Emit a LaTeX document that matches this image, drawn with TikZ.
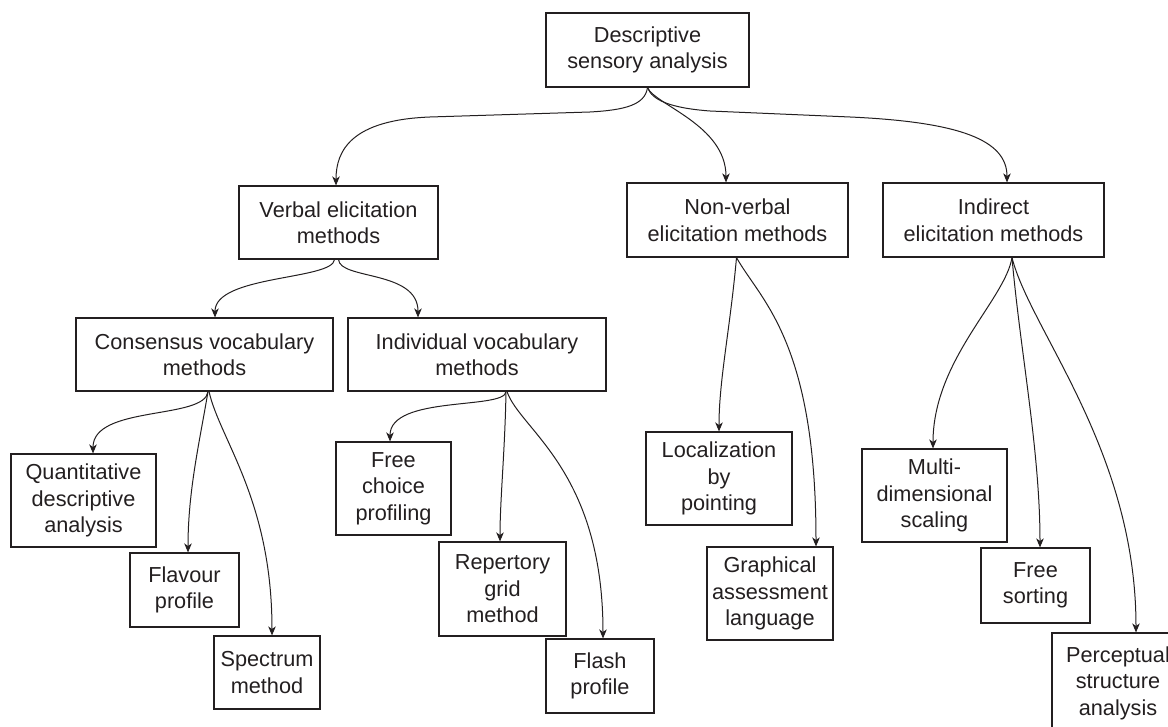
\documentclass[tikz,border=0pt]{standalone}
\usepackage{fontspec}
\setmainfont{Liberation Sans}
\usetikzlibrary{arrows.meta}
\definecolor{ink}{HTML}{231F20}
\begin{document}
\begin{tikzpicture}[x=1pt,y=-1pt,
  box/.style={draw=ink, line width=1.1pt, align=center, inner sep=0pt, text=ink,
    font=\fontsize{21.7}{26.5}\selectfont},
  link/.style={draw=ink, line width=1pt, -{Stealth[length=9pt,width=7.5pt,inset=2.5pt]}}]
\useasboundingbox (0,0) rectangle (1168,727);
% level 0
\node[box, minimum width=203pt, minimum height=74pt] (root) at (647.5,50) {Descriptive\\sensory analysis};
% level 1
\node[box, minimum width=199pt, minimum height=73pt] (verbal) at (338.5,222.5) {Verbal elicitation\\methods};
\node[box, minimum width=221pt, minimum height=74pt] (nonverbal) at (737.5,220) {Non-verbal\\elicitation methods};
\node[box, minimum width=221pt, minimum height=74pt] (indirect) at (993.5,220) {Indirect\\elicitation methods};
% level 2
\node[box, minimum width=257pt, minimum height=73pt] (consensus) at (204.5,354.5) {Consensus vocabulary\\methods};
\node[box, minimum width=258pt, minimum height=73pt] (individual) at (477,354.5) {Individual vocabulary\\methods};
% leaves
\node[box, minimum width=145pt, minimum height=93pt] (qda) at (83.5,500.5) {Quantitative\\descriptive\\analysis};
\node[box, minimum width=109pt, minimum height=74pt] (flavour) at (184.5,590) {Flavour\\profile};
\node[box, minimum width=106pt, minimum height=73pt] (spectrum) at (267,672.5) {Spectrum\\method};
\node[box, minimum width=115pt, minimum height=93pt] (freechoice) at (393.5,488.5) {Free\\choice\\profiling};
\node[box, minimum width=127pt, minimum height=94pt] (repertory) at (502.5,589) {Repertory\\grid\\method};
\node[box, minimum width=108pt, minimum height=74pt] (flash) at (600,676) {Flash\\profile};
\node[box, minimum width=146pt, minimum height=93pt] (localization) at (719,478.5) {Localization\\by\\pointing};
\node[box, minimum width=126pt, minimum height=93pt] (graphical) at (770,593.5) {Graphical\\assessment\\language};
\node[box, minimum width=145pt, minimum height=93pt] (multi) at (934.5,495.5) {Multi-\\dimensional\\scaling};
\node[box, minimum width=109pt, minimum height=75pt] (freesorting) at (1035.5,585.5) {Free\\sorting};
\node[box, minimum width=132pt, minimum height=100pt] (perceptual) at (1118,683) {Perceptual\\structure\\analysis};
% connectors from root
\draw[link] (root.south) .. controls (645,105) and (625,110) .. (590,112) -- (430,117) .. controls (352,120) and (336,150) .. ([xshift=-2.5pt]verbal.north);
\draw[link] (root.south) .. controls (655,105) and (726,125) .. ([xshift=-11.5pt]nonverbal.north);
\draw[link] (root.south) .. controls (652,100) and (670,108) .. (710,111) -- (850,117) .. controls (960,122) and (1007,140) .. ([xshift=13.5pt]indirect.north);
% verbal
\draw[link] ([xshift=-4pt]verbal.south) .. controls (333,280) and (215,275) .. ([xshift=10.5pt]consensus.north);
\draw[link] (verbal.south) .. controls (340,280) and (418,270) .. ([xshift=-59pt]individual.north);
% non-verbal
\draw[link] ([xshift=-1pt]nonverbal.south) .. controls (730,330) and (719,380) .. (localization.north);
\draw[link] ([xshift=-1pt]nonverbal.south) .. controls (760,300) and (816,340) .. ([xshift=46pt]graphical.north);
% indirect
\draw[link] ([xshift=18.5pt]indirect.south) .. controls (1005,300) and (933,360) .. ([xshift=-1.5pt]multi.north);
\draw[link] ([xshift=18.5pt]indirect.south) .. controls (1020,350) and (1040,450) .. ([xshift=4.5pt]freesorting.north);
\draw[link] ([xshift=18.5pt]indirect.south) .. controls (1030,330) and (1136,450) .. ([xshift=18pt]perceptual.north);
% consensus
\draw[link] ([xshift=3.5pt]consensus.south) .. controls (205,420) and (93,405) .. ([xshift=9.5pt]qda.north);
\draw[link] ([xshift=3.5pt]consensus.south) .. controls (200,440) and (188,490) .. ([xshift=3.5pt]flavour.north);
\draw[link] ([xshift=4.5pt]consensus.south) .. controls (220,440) and (272,500) .. ([xshift=5pt]spectrum.north);
% individual
\draw[link] ([xshift=29pt]individual.south) .. controls (505,410) and (390,395) .. ([xshift=-3.5pt]freechoice.north);
\draw[link] ([xshift=29pt]individual.south) .. controls (505,450) and (500,500) .. ([xshift=-2.5pt]repertory.north);
\draw[link] ([xshift=30pt]individual.south) .. controls (520,430) and (603,470) .. ([xshift=3pt]flash.north);
\end{tikzpicture}
\end{document}
